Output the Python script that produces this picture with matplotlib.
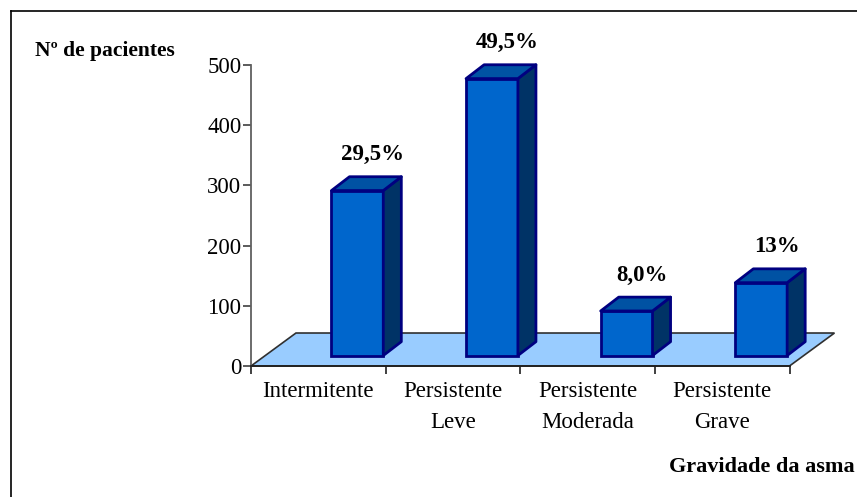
import matplotlib
matplotlib.use("Agg")
import matplotlib.pyplot as plt
from matplotlib.patches import Polygon
from matplotlib.lines import Line2D

# Data
categories = ["Intermitente", "Persistente\nLeve", "Persistente\nModerada", "Persistente\nGrave"]
patients = [274, 460, 74, 121]
percent_labels = ["29,5%", "49,5%", "8,0%", "13%"]
y_ticks = [0, 100, 200, 300, 400, 500]

plt.rcParams["font.family"] = ["Liberation Serif", "DejaVu Serif"]

W, H = 857, 497
fig = plt.figure(figsize=(W / 100, H / 100), dpi=100)
fig.patch.set_facecolor("white")

# axes placed so that the front plane of the 3D chart lines up
left_px, right_px, top_px, bottom_px = 251, 789.5, 65, 366
ax = fig.add_axes([left_px / W, (H - bottom_px) / H,
                   (right_px - left_px) / W, (bottom_px - top_px) / H])
ax.set_xlim(0, 4)
ax.set_ylim(0, 500)
ax.patch.set_visible(False)

axis_col = "#404040"
for s in ("top", "right"):
    ax.spines[s].set_visible(False)
ax.spines["left"].set_color("#606060")
ax.spines["left"].set_linewidth(1.3)
ax.spines["bottom"].set_color("#202020")
ax.spines["bottom"].set_linewidth(1.3)
ax.spines["bottom"].set_zorder(6)

ax.set_yticks(y_ticks)
ax.set_yticklabels([str(t) for t in y_ticks], fontsize=16.5)
ax.tick_params(axis="y", direction="out", length=6, width=1.2, color=axis_col, pad=1)

ax.set_xticks(range(5))
ax.set_xticklabels([])
ax.tick_params(axis="x", which="major", direction="out", length=6, width=1.2, color="#202020")
ax.set_xticks([i + 0.5 for i in range(4)], minor=True)
ax.set_xticklabels(categories, minor=True, fontsize=16.5, linespacing=1.6)
ax.tick_params(axis="x", which="minor", length=0, pad=11)

# floor of the 3D chart
floor_dx, floor_dy = 0.334, 54.8
floor = Polygon([(0, 0), (4, 0), (4 + floor_dx, floor_dy), (floor_dx, floor_dy)],
                closed=True, facecolor="#99CCFF", edgecolor="#303030",
                linewidth=1.2, clip_on=False, zorder=1)
ax.add_patch(floor)

# 3D columns
shift, width = 0.29, 0.385
base = 17.4
dx, dy = 0.134, 23.0
front_col, top_col, side_col, edge_col = "#0066CC", "#0052A3", "#003366", "#000080"

centers = [i + 0.5 + shift for i in range(len(patients))]
ax.bar(centers, patients, width=width, bottom=base, color=front_col,
       edgecolor=edge_col, linewidth=2, zorder=3, clip_on=False)
for xc, v, lab in zip(centers, patients, percent_labels):
    x0, x1 = xc - width / 2, xc + width / 2
    y0, y1 = base, base + v
    top = Polygon([(x0, y1), (x0 + dx, y1 + dy), (x1 + dx, y1 + dy), (x1, y1)],
                  closed=True, facecolor=top_col, edgecolor=edge_col,
                  linewidth=2, joinstyle="round", clip_on=False, zorder=3)
    side = Polygon([(x1, y0), (x1 + dx, y0 + dy), (x1 + dx, y1 + dy), (x1, y1)],
                   closed=True, facecolor=side_col, edgecolor=edge_col,
                   linewidth=2, joinstyle="round", clip_on=False, zorder=3)
    ax.add_patch(side)
    ax.add_patch(top)
    ax.text(xc + dx * 0.85, y1 + dy + 19, lab, ha="center", va="bottom",
            fontsize=16.5, fontweight="bold", clip_on=False, zorder=5)

# axis titles
fig.text(35 / W, 1 - 51 / H, "Nº de pacientes", ha="left", va="center",
         fontsize=15.5, fontweight="bold")
fig.text(855 / W, 1 - 467 / H, "Gravidade da asma", ha="right", va="center",
         fontsize=16, fontweight="bold")

# outer frame (left and top edges)
fig.add_artist(Line2D([10.5 / W, 10.5 / W], [0, 1 - 10.5 / H], color="black", lw=1.2))
fig.add_artist(Line2D([10.5 / W, 1], [1 - 10.5 / H, 1 - 10.5 / H], color="black", lw=1.2))

fig.savefig("out.png", dpi=100, facecolor="white")
